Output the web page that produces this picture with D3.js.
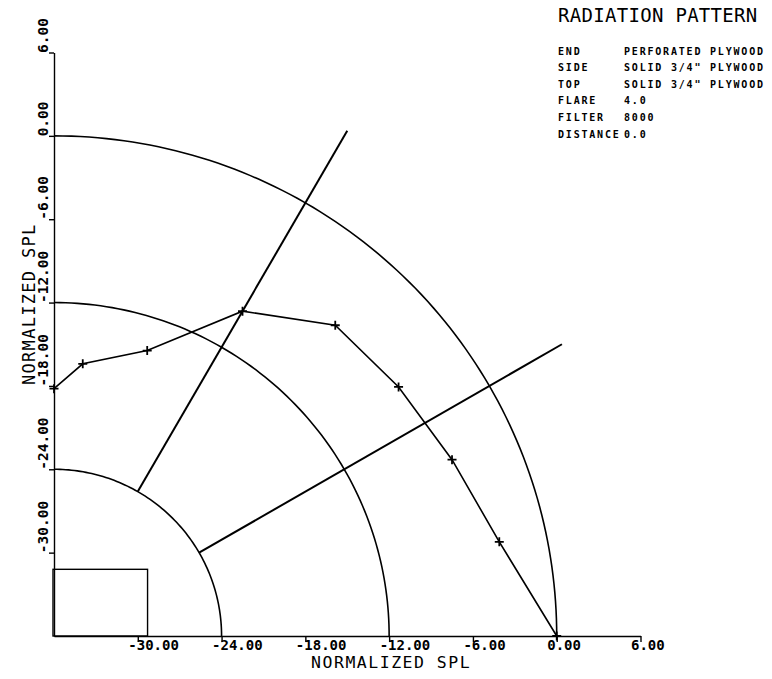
<!DOCTYPE html>
<html>
<head>
<meta charset="utf-8">
<script src="https://cdn.jsdelivr.net/npm/d3@7"></script>
<style>
  html, body { margin: 0; padding: 0; background: #fff; }
  svg { display: block; }
  text { font-family: "DejaVu Sans Mono", "Liberation Mono", monospace; fill: #000; }
</style>
</head>
<body>
<svg id="chart" width="772" height="679"></svg>
<script>
// Measured response (normalized SPL, dB) at each off-axis angle (degrees)
const angles = [0, 12, 24, 36, 48, 60, 72, 84, 90];
const splValues = [0, -3.4, -4.8, -5.5, -5.9, -9.0, -14.4, -16.3, -18.2];

// Reference rings (dB) and radial guide lines (degrees, dB span)
const ringLevels = [0, -12, -24];
const spokeAngles = [30, 60];
const spokeSpan = [-24, 6];

// Axis ticks
const xTicks = [-30, -24, -18, -12, -6, 0, 6];
const yTicks = [-30, -24, -18, -12, -6, 0, 6];

// Test setup notes
const noteKeys = ["END", "SIDE", "TOP", "FLARE", "FILTER", "DISTANCE"];
const noteValues = ["PERFORATED PLYWOOD", "SOLID 3/4\" PLYWOOD", "SOLID 3/4\" PLYWOOD", "4.0", "8000", "0.0"];

const title = "RADIATION PATTERN";
const axisTitle = "NORMALIZED SPL";

const svg = d3.select("#chart");
const floorDb = -36;
const x = d3.scaleLinear().domain([floorDb, 6]).range([54, 640.5]);
const y = d3.scaleLinear().domain([floorDb, 6]).range([636, 52.5]);

// polar (level in dB, angle in degrees) -> screen point, centred on the floor corner
function polar(level, deg) {
  const r = level - floorDb;
  const a = deg * Math.PI / 180;
  return [x(floorDb + r * Math.cos(a)), y(floorDb + r * Math.sin(a))];
}

const fmt = v => d3.format(".2f")(v).replace("\u2212", "-");

// ---- axes ----
const xAxis = svg.append("g")
  .attr("transform", `translate(0,${y(floorDb)})`)
  .call(d3.axisBottom(x).tickValues(xTicks).tickSizeInner(6).tickSizeOuter(0).tickFormat(fmt));
xAxis.select(".domain").attr("stroke", "#000").attr("stroke-width", 1.4);
xAxis.selectAll(".tick line").attr("stroke", "#000").attr("stroke-width", 1.4);
xAxis.selectAll(".tick text")
  .attr("text-anchor", "start").attr("x", -10).attr("y", 14).attr("dy", 0)
  .style("font-size", "14px").style("font-weight", "bold");

const yAxis = svg.append("g")
  .attr("transform", `translate(${x(floorDb)},0)`)
  .call(d3.axisLeft(y).tickValues(yTicks).tickSizeInner(5).tickSizeOuter(0).tickFormat(fmt));
yAxis.select(".domain").attr("stroke", "#000").attr("stroke-width", 1.4);
yAxis.selectAll(".tick line").attr("stroke", "#000").attr("stroke-width", 1.4);
yAxis.selectAll(".tick text")
  .attr("text-anchor", "start").attr("transform", "rotate(-90)")
  .attr("x", 0).attr("y", -6).attr("dy", 0)
  .style("font-size", "14.5px").style("font-weight", "bold");

// axis titles
svg.append("text")
  .attr("x", (x(-18) + x(-6)) / 2 + 2).attr("y", 668)
  .attr("text-anchor", "middle")
  .style("font-size", "16.5px").style("letter-spacing", "1.5px")
  .text(axisTitle);
svg.append("text")
  .attr("transform", `translate(35,${(y(-18) + y(-12)) / 2 - 40}) rotate(-90)`)
  .attr("text-anchor", "middle")
  .style("font-size", "17px").style("letter-spacing", "1.3px")
  .text(axisTitle);

// ---- key frame in the floor corner ----
svg.append("rect")
  .attr("x", x(floorDb) - 1).attr("y", y(-31.2))
  .attr("width", x(-29.3) - x(floorDb) + 1).attr("height", y(floorDb) - y(-31.2))
  .attr("fill", "none").attr("stroke", "#000").attr("stroke-width", 1.4);

// ---- rings ----
const arcLine = d3.line();
const sweep = d3.range(0, 90.5, 1);
svg.append("g").selectAll("path").data(ringLevels).join("path")
  .attr("d", lv => arcLine(sweep.map(a => polar(lv, a))))
  .attr("fill", "none").attr("stroke", "#000").attr("stroke-width", 1.6);

// ---- radial guides ----
svg.append("g").selectAll("path").data(spokeAngles).join("path")
  .attr("d", a => arcLine(spokeSpan.map(lv => polar(lv, a))))
  .attr("fill", "none").attr("stroke", "#000").attr("stroke-width", 2);

// ---- response curve ----
const pts = angles.map((a, i) => polar(splValues[i], a));
svg.append("path")
  .attr("d", arcLine(pts))
  .attr("fill", "none").attr("stroke", "#000").attr("stroke-width", 1.6);
svg.append("g").selectAll("path").data(pts).join("path")
  .attr("transform", p => `translate(${p[0]},${p[1]})`)
  .attr("d", "M-4.5,0H4.5M0,-4.5V4.5")
  .attr("stroke", "#000").attr("stroke-width", 1.8);

// ---- title and setup notes ----
svg.append("text")
  .attr("x", 558).attr("y", 22)
  .style("font-size", "19px").style("letter-spacing", "0.3px")
  .text(title);

const notes = svg.append("g").style("font-size", "10px").style("font-weight", "bold").style("letter-spacing", "1.8px");
notes.selectAll("text.k").data(noteKeys).join("text").attr("class", "k")
  .attr("x", 558).attr("y", (d, i) => 54.5 + i * 16.6).text(d => d);
notes.selectAll("text.v").data(noteValues).join("text").attr("class", "v")
  .attr("x", 624).attr("y", (d, i) => 54.5 + i * 16.6).text(d => d);
</script>
</body>
</html>
